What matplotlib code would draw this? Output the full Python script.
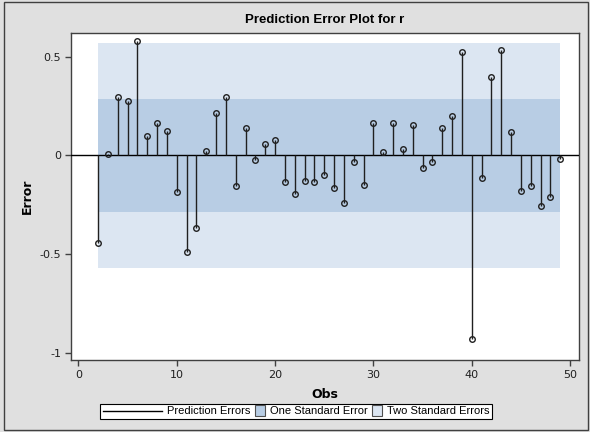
import matplotlib
matplotlib.use('Agg')
import matplotlib.pyplot as plt
from matplotlib.lines import Line2D
from matplotlib.patches import Patch, Rectangle
from matplotlib.legend_handler import HandlerPatch, HandlerLine2D

# one-step-ahead prediction errors by observation
obs = list(range(2, 50))
errors = [-0.443, 0.007, 0.297, 0.275, 0.579, 0.098, 0.165, 0.125, -0.186, -0.488,
          -0.370, 0.023, 0.216, 0.297, -0.154, 0.138, -0.025, 0.057, 0.079, -0.135,
          -0.198, -0.130, -0.135, -0.098, -0.166, -0.240, -0.035, -0.149, 0.165, 0.018,
          0.165, 0.034, 0.152, -0.066, -0.035, 0.138, 0.198, 0.524, -0.933, -0.117,
          0.397, 0.534, 0.120, -0.181, -0.157, -0.257, -0.211, -0.020]
std_err = 0.285

x_ticks = [0, 10, 20, 30, 40, 50]
y_ticks = [-1, -0.5, 0, 0.5]
y_ticklabels = ['-1', '-0.5', '0', '0.5']

one_se_color = '#b8cde4'
two_se_color = '#dce6f2'
frame_color = '#404040'

fig = plt.figure(figsize=(5.9, 4.32), dpi=100, facecolor='#e0e0e0')
ax = fig.add_axes([71 / 590, 1 - 360 / 432, 508 / 590, 327 / 432])
ax.set_facecolor('white')

# standard error bands
ax.fill_between([obs[0], obs[-1]], -2 * std_err, 2 * std_err, color=two_se_color, lw=0, zorder=1)
ax.fill_between([obs[0], obs[-1]], -std_err, std_err, color=one_se_color, lw=0, zorder=2)

ax.axhline(0, color='black', lw=1, zorder=3)
ax.vlines(obs, 0, errors, color='#202020', lw=1, zorder=4)
ax.plot(obs, errors, 'o', ms=4, mfc='none', mec='#202020', mew=1, zorder=5)

ax.set_xlim(-0.75, 50.9)
ax.set_ylim(-1.037, 0.62)
ax.set_xticks(x_ticks)
ax.set_yticks(y_ticks)
ax.set_yticklabels(y_ticklabels)
ax.tick_params(direction='out', length=4, width=1, color=frame_color, labelsize=8,
               labelcolor='#202020', pad=3)
for s in ax.spines.values():
    s.set_color(frame_color)
    s.set_linewidth(1)

ax.set_xlabel('Obs', fontsize=9, fontweight='bold', labelpad=6)
ax.set_ylabel('Error', fontsize=9, fontweight='bold', labelpad=4)
fig.text(0.5 + 0.5 * 71 / 590 - 0.5 * (590 - 579) / 590, 1 - 20 / 432, 'Prediction Error Plot for r',
         ha='center', va='center', fontsize=9.5, fontweight='bold', family='Liberation Sans')


class LongLine(HandlerLine2D):
    # the line sample is wider than the square samples
    def legend_artist(self, legend, orig_handle, fontsize, handlebox):
        handlebox.width = 43
        return super().legend_artist(legend, orig_handle, fontsize, handlebox)


def small_square(legend, orig_handle, xdescent, ydescent, width, height, fontsize):
    side = 7.5
    return Rectangle((width - side - xdescent, -ydescent + (height - side) / 2), side, side)


handles = [Line2D([], [], color='black', lw=1),
           Patch(facecolor=one_se_color, edgecolor='#505050', lw=0.8),
           Patch(facecolor=two_se_color, edgecolor='#505050', lw=0.8)]
labels = ['Prediction Errors', 'One Standard Error', 'Two Standard Errors']
sq = HandlerPatch(patch_func=small_square)
leg = fig.legend(handles, labels, loc='center', bbox_to_anchor=(0.5017, 1 - 411.5 / 432), ncol=3,
                 prop={'family': 'Liberation Sans', 'size': 8.0},
                 frameon=True, fancybox=False, edgecolor='black', facecolor='white',
                 framealpha=1, handlelength=1.0, handletextpad=0.4, columnspacing=0.35,
                 borderpad=0.25, borderaxespad=0,
                 handler_map={handles[0]: LongLine(), handles[1]: sq, handles[2]: sq})
leg.get_frame().set_linewidth(0.8)

# outer border
fig.patches.append(Rectangle((4 / 590, 2 / 432), 584 / 590, 428 / 432, transform=fig.transFigure,
                             fill=False, edgecolor=frame_color, lw=1))

fig.savefig('out.png', dpi=100, facecolor=fig.get_facecolor())
